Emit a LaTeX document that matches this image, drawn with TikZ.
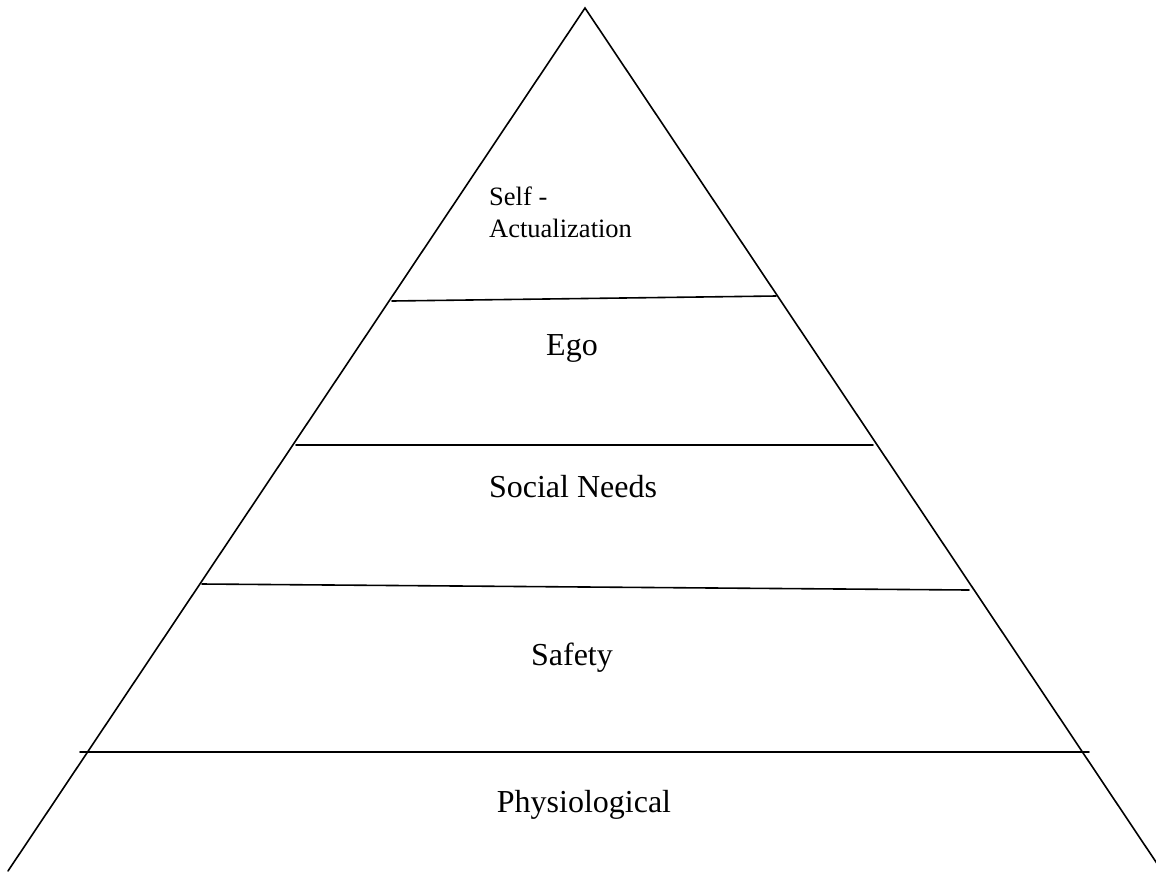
\documentclass[tikz,border=0pt]{standalone}
\usepackage{fontspec}
\setmainfont{Liberation Serif}
\tikzset{
  edge/.style={line width=1.6pt, line cap=round},
  tier/.style={anchor=base, inner sep=0pt, font=\fontsize{32}{38}\selectfont},
  toptier/.style={anchor=base west, inner sep=0pt, font=\fontsize{26.5}{32}\selectfont}
}
\begin{document}
\begin{tikzpicture}[x=1pt,y=-1pt]
\useasboundingbox (0,0) rectangle (1156,871);
% pyramid outline
\coordinate (apex) at (585,8);
\coordinate (bl) at (8,871);
\coordinate (br) at (1162,871);
\draw[edge] (bl) -- (apex) -- (br);
%
\coordinate (a1) at (392,301);
\coordinate (b1) at (776,296);
\draw[edge] (a1) -- (b1);
%
\coordinate (a2) at (296,445);
\coordinate (b2) at (873,445);
\draw[edge] (a2) -- (b2);
%
\coordinate (a3) at (202,584);
\coordinate (b3) at (969,590);
\draw[edge] (a3) -- (b3);
%
\coordinate (a4) at (80,752);
\coordinate (b4) at (1089,752);
\draw[edge] (a4) -- (b4);
%
\node[toptier] (self) at (489,205) {Self -};
\node[toptier] (act) at (489,237) {Actualization};
\node[tier] (ego) at (572,355) {Ego};
\node[tier] (social) at (573,497) {Social Needs};
\node[tier] (safety) at (572,665) {Safety};
\node[tier] (phys) at (584,812) {Physiological};
\end{tikzpicture}
\end{document}
